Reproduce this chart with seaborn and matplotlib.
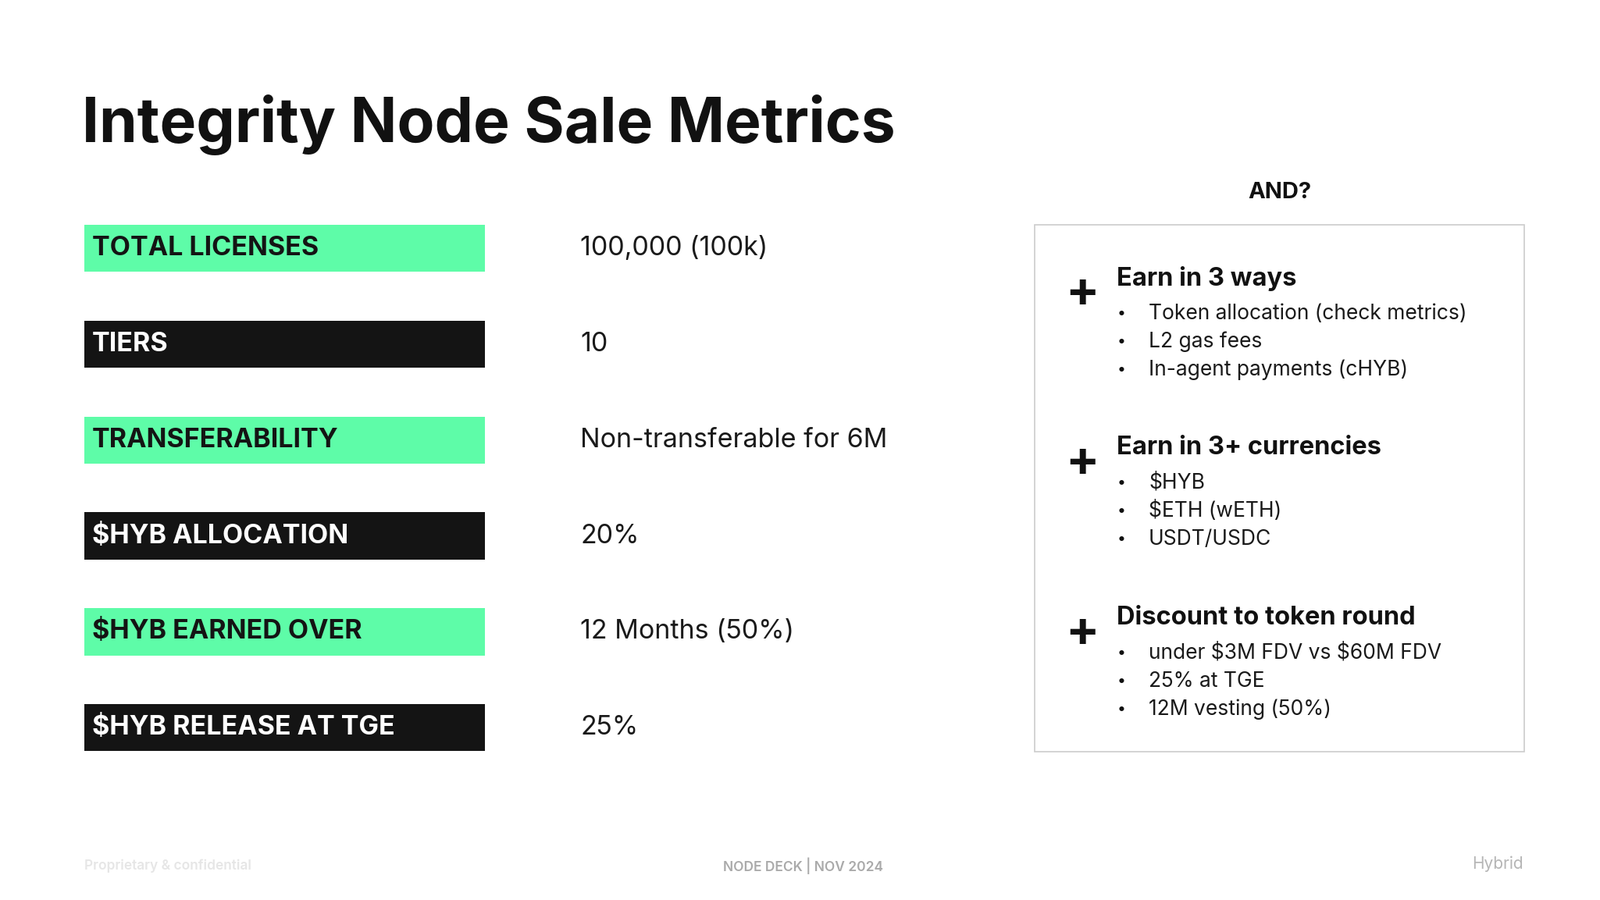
import matplotlib
matplotlib.use("Agg")
import matplotlib.pyplot as plt
import seaborn as sns
import pandas as pd
from matplotlib.patches import Rectangle

labels = ["TOTAL LICENSES", "TIERS", "TRANSFERABILITY", "$HYB ALLOCATION", "$HYB EARNED OVER", "$HYB RELEASE AT TGE"]
values = ["100,000 (100k)", "10", "Non-transferable for 6M", "20%", "12 Months (50%)", "25%"]
bar_len = [1, 1, 1, 1, 1, 1]
headings = ["Earn in 3 ways", "Earn in 3+ currencies", "Discount to token round"]
bullets = [["Token allocation (check metrics)", "L2 gas fees", "In-agent payments (cHYB)"],
           ["$HYB", "$ETH (wETH)", "USDT/USDC"],
           ["under $3M FDV vs $60M FDV", "25% at TGE", "12M vesting (50%)"]]

GREEN, BLACK = "#5EFCA8", "#141414"
plt.rcParams["font.family"] = "Inter"
W, H = 1560, 878
fig = plt.figure(figsize=(20.49, 11.53), dpi=100)
fig.patch.set_facecolor("white")

def fx(x): return x / W
def fy(y): return 1 - y / H
def esc(s): return s.replace("$", r"\$")

fig.text(fx(80), fy(122), "Integrity Node Sale Metrics", fontsize=56.5, fontweight="bold",
         color="#111111", va="center", ha="left")

df = pd.DataFrame({"label": labels, "len": bar_len})
ax = fig.add_axes([fx(82), 1 - 756.8 / H, 391 / W, 561.6 / H])
cols = [GREEN if i % 2 == 0 else BLACK for i in range(len(labels))]
sns.barplot(data=df, x="len", y="label", hue="label", palette=cols, width=0.49,
            saturation=1, legend=False, ax=ax, orient="h")
ax.set_xlim(0, 1)
ax.set_ylim(len(labels) - 0.5, -0.5)
ax.axis("off")
for i, (l, v) in enumerate(zip(labels, values)):
    ax.text(0.02, i, esc(l), color=(BLACK if i % 2 == 0 else "white"), fontsize=24.5,
            fontweight="bold", va="center", ha="left")
    ax.text(1.238, i, esc(v), color="#1a1a1a", fontsize=24.5, va="center", ha="left", clip_on=False)

fig.patches.append(Rectangle((fx(1009), fy(733)), fx(1486 - 1009), (733 - 219) / H,
                             transform=fig.transFigure, fill=False, edgecolor="#cccccc", lw=1.2))
fig.text(fx(1248), fy(188), "AND?", fontsize=21, fontweight="bold", ha="center", va="center", color="#111111")
for k, y0 in enumerate([272, 437, 603]):
    fig.text(fx(1055), fy(y0 + 15), "+", fontsize=46, fontweight="bold", ha="center", va="center", color="#111111")
    fig.text(fx(1089), fy(y0), esc(headings[k]), fontsize=23.5, fontweight="bold", ha="left", va="center", color="#111111")
    for j, b in enumerate(bullets[k]):
        yy = y0 + 34 + j * 27.5
        fig.text(fx(1093), fy(yy), "•", fontsize=14, ha="center", va="center", color="#111111")
        fig.text(fx(1120), fy(yy), esc(b), fontsize=19, ha="left", va="center", color="#1a1a1a")

fig.text(fx(82), fy(845), "Proprietary & confidential", fontsize=12.5, fontweight="semibold", color="#e6e6e6", va="center")
fig.text(fx(783), fy(845), "NODE DECK | NOV 2024", fontsize=12.5, fontweight="semibold", color="#aaaaaa", va="center", ha="center")
fig.text(fx(1485), fy(843), "Hybrid", fontsize=15, color="#b5b5b5", va="center", ha="right")

fig.savefig("out.png", dpi=100, facecolor="white")
